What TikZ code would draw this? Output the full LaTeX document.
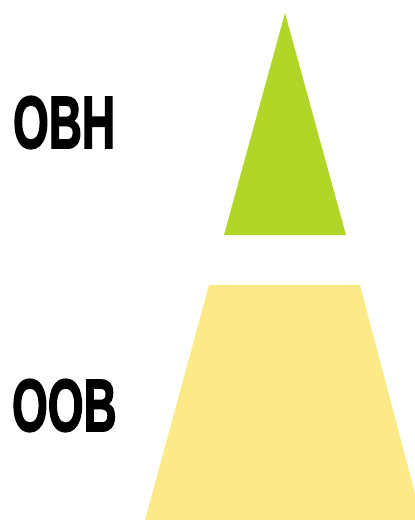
\documentclass[tikz,border=0pt]{standalone}
\usepackage{fontspec}
\newfontfamily\impfont{Liberation Sans Bold}[FakeBold=2.5]
\definecolor{greentri}{RGB}{178,214,40}
\definecolor{yellowtrap}{RGB}{252,233,135}
\tikzset{
  label text/.style={font=\impfont\fontsize{74}{74}\selectfont, text=black, inner sep=0pt, anchor=base west, xscale=0.62},
}
\begin{document}
\begin{tikzpicture}[x=1pt,y=-1pt]
\useasboundingbox (0,0) rectangle (415,520);
\begin{scope}
\clip (0,0) rectangle (415,520);
\coordinate (gA) at (285,13);
\coordinate (gL) at (224,235);
\coordinate (gR) at (346,235);
\fill[greentri] (gA) -- (gL) -- (gR) -- cycle;
\coordinate (yTL) at (209,285);
\coordinate (yTR) at (360,285);
\coordinate (yBR) at (422,520);
\coordinate (yBL) at (145,520);
\fill[yellowtrap] (yTL) -- (yTR) -- (yBR) -- (yBL) -- cycle;
\end{scope}
\node[label text] (obh) at (13,148) {OBH};
\node[label text] (oob) at (12,431) {OOB};
\end{tikzpicture}
\end{document}
